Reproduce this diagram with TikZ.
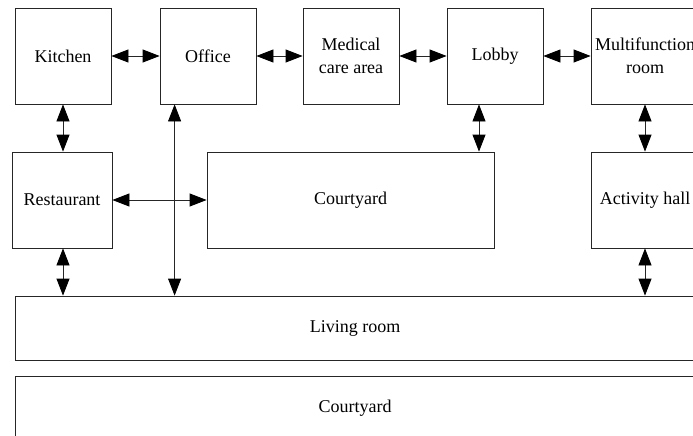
\documentclass[tikz,border=0pt]{standalone}
\usepackage{fontspec}
\setmainfont{Liberation Serif}
\usetikzlibrary{arrows.meta,calc}
\begin{document}
\begin{tikzpicture}[x=1pt,y=-1pt,
  room/.style={draw=black!85, line width=0.8pt, inner sep=0pt, align=center,
    font=\fontsize{18}{23}\selectfont},
  link/.style={draw=black!85, line width=0.8pt,
    {Triangle[length=17pt,width=13pt,fill=black,color=black]}-{Triangle[length=17pt,width=13pt,fill=black,color=black]}}]
\useasboundingbox (0,0) rectangle (693,436);
\clip (0,0) rectangle (693,436);
% top row
\node[room, minimum width=96pt, minimum height=96pt] (kitchen) at (63,56) {Kitchen};
\node[room, minimum width=96pt, minimum height=96pt] (office) at (208,56) {Office};
\node[room, minimum width=96pt, minimum height=96pt] (medical) at (351,56) {Medical\\care area};
\node[room, minimum width=96pt, minimum height=96pt] (lobby) at (495,56) {Lobby};
\node[room, minimum width=108pt, minimum height=96pt] (multi) at (645,56) {Multifunction\\room};
% middle row
\node[room, minimum width=100pt, minimum height=96pt] (rest) at (62,200) {Restaurant};
\node[room, minimum width=287pt, minimum height=96pt] (court) at (350.5,200) {Courtyard};
\node[room, minimum width=108pt, minimum height=96pt] (activity) at (645,200) {Activity hall};
% bottom
\node[room, minimum width=680pt, minimum height=64pt] (living) at (355,328) {Living room};
\node[room, minimum width=680pt, minimum height=64pt] (yard) at (355,408) {Courtyard};
% horizontal links
\draw[link] (kitchen.east) -- (office.west);
\draw[link] (office.east) -- (medical.west);
\draw[link] (medical.east) -- (lobby.west);
\draw[link] (lobby.east) -- (multi.west);
\draw[link] (rest.east) -- (rest.east -| court.west);
% vertical links
\draw[link] (kitchen.south) -- (kitchen.south |- rest.north);
\coordinate (lb) at ($(lobby.south)+(-16,0)$);
\draw[link] (lb) -- (lb |- court.north);
\draw[link] (multi.south) -- (activity.north);
\coordinate (of) at ($(office.south west)+(15,0)$);
\draw[link] (of) -- (of |- living.north);
\coordinate (rs) at ($(rest.south)+(1,0)$);
\draw[link] (rs) -- (rs |- living.north);
\draw[link] (activity.south) -- (activity.south |- living.north);
\end{tikzpicture}
\end{document}
